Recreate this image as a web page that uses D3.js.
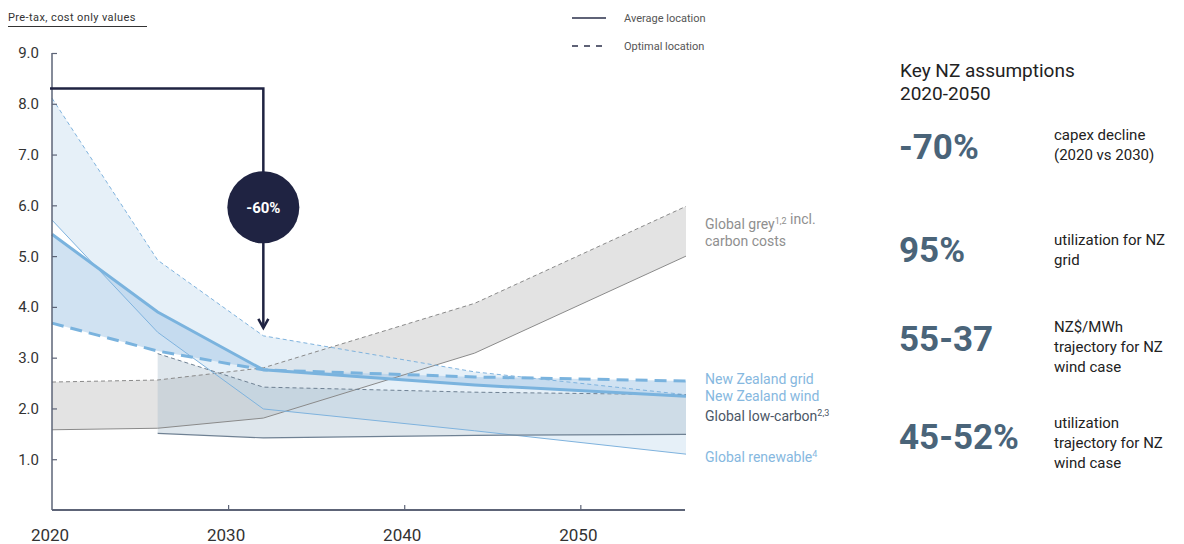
<!DOCTYPE html>
<html>
<head>
<meta charset="utf-8">
<script src="https://cdn.jsdelivr.net/npm/d3@7"></script>
<style>
  body { margin: 0; background: #fff; }
  svg text { font-family: Roboto, "Noto Sans", sans-serif; }
</style>
</head>
<body>
<div id="chart"></div>
<script>
// years where the curves have a kink
var years = [2020, 2026, 2032, 2044, 2056];
var lowCarbonYears = [2026, 2032, 2044, 2056];

// US$/kg values
var greyOptimal = [2.52, 2.56, 2.80, 4.07, 5.98];
var greyAverage = [1.58, 1.61, 1.81, 3.09, 5.00];
var lowCarbonOptimal = [3.08, 2.42, 2.32, 2.27];
var lowCarbonAverage = [1.51, 1.42, 1.47, 1.49];
var renewableOptimal = [8.11, 4.92, 3.43, 2.72, 2.27];
var renewableAverage = [5.71, 3.50, 1.99, 1.56, 1.10];
var nzWind = [5.43, 3.90, 2.76, 2.46, 2.24];
var nzGrid = [3.68, 3.13, 2.76, 2.62, 2.54];

var yTicks = [1, 2, 3, 4, 5, 6, 7, 8, 9];
var xTicks = [2020, 2030, 2040, 2050];

var seriesLabels = [
  { lines: ["Global grey|1,2| incl.", "carbon costs"], value: 5.46, color: "#8f8f8f" },
  { lines: ["New Zealand grid"], value: 2.58, color: "#86b8e0" },
  { lines: ["New Zealand wind"], value: 2.24, color: "#86b8e0" },
  { lines: ["Global low-carbon|2,3|"], value: 1.85, color: "#4b5666" },
  { lines: ["Global renewable|4|"], value: 1.04, color: "#86b8e0" }
];

var keyNumbers = ["-70%", "95%", "55-37", "45-52%"];
var keyTexts = [
  ["capex decline", "(2020 vs 2030)"],
  ["utilization for NZ", "grid"],
  ["NZ$/MWh", "trajectory for NZ", "wind case"],
  ["utilization", "trajectory for NZ", "wind case"]
];
var keyNumberY = [146, 249, 338, 436];
var keyTextTop = [135, 240, 327, 423];

var width = 1184, height = 544;
var svg = d3.select("#chart").append("svg")
  .attr("width", width).attr("height", height);

var x = d3.scaleLinear().domain([2020, 2056]).range([52, 686]);
var y = d3.scaleLinear().domain([0, 9]).range([510, 53]);

function band(xs, hi, lo) {
  return d3.area()
    .x(function (d, i) { return x(xs[i]); })
    .y0(function (d, i) { return y(lo[i]); })
    .y1(function (d, i) { return y(hi[i]); })(xs);
}
function line(xs, vals) {
  return d3.line()
    .x(function (d, i) { return x(xs[i]); })
    .y(function (d) { return y(d); })(vals);
}

// fills
svg.append("path").attr("d", band(years, greyOptimal, greyAverage)).attr("fill", "#e3e3e3");
svg.append("path").attr("d", band(years, renewableOptimal, renewableAverage))
  .attr("fill", "#d6e6f4").attr("opacity", 0.6);
svg.append("path").attr("d", band(lowCarbonYears, lowCarbonOptimal, lowCarbonAverage))
  .attr("fill", "#a0b6c8").attr("opacity", 0.35);
svg.append("path").attr("d", band(years, nzWind, nzGrid))
  .attr("fill", "#a9cbe8").attr("opacity", 0.55);

// lines
svg.append("path").attr("d", line(years, greyOptimal)).attr("fill", "none")
  .attr("stroke", "#8a8a8a").attr("stroke-width", 1).attr("stroke-dasharray", "4,3");
svg.append("path").attr("d", line(years, greyAverage)).attr("fill", "none")
  .attr("stroke", "#8a8a8a").attr("stroke-width", 1);
svg.append("path").attr("d", line(years, renewableOptimal)).attr("fill", "none")
  .attr("stroke", "#7fb3de").attr("stroke-width", 1).attr("stroke-dasharray", "4,3");
svg.append("path").attr("d", line(years, renewableAverage)).attr("fill", "none")
  .attr("stroke", "#7fb3de").attr("stroke-width", 1);
svg.append("path").attr("d", line(lowCarbonYears, lowCarbonOptimal)).attr("fill", "none")
  .attr("stroke", "#6f8193").attr("stroke-width", 1).attr("stroke-dasharray", "4,3");
svg.append("path").attr("d", line(lowCarbonYears, lowCarbonAverage)).attr("fill", "none")
  .attr("stroke", "#6f8193").attr("stroke-width", 1.2);
svg.append("path").attr("d", line(years, nzWind)).attr("fill", "none")
  .attr("stroke", "#7ab3de").attr("stroke-width", 3);
svg.append("path").attr("d", line(years, nzGrid)).attr("fill", "none")
  .attr("stroke", "#7ab3de").attr("stroke-width", 3).attr("stroke-dasharray", "12,7");

// axes
var yAxis = svg.append("g").attr("transform", "translate(" + x(2020) + ",0)")
  .call(d3.axisRight(y).tickValues(yTicks).tickSize(5).tickFormat(""));
yAxis.select(".domain").attr("d", "M0," + y(9) + "V" + y(0)).attr("stroke", "#5d6477").attr("stroke-width", 1.5);
yAxis.selectAll(".tick line").attr("stroke", "#5d6477").attr("stroke-width", 1.2);

svg.selectAll(".ylab").data(yTicks).enter().append("text")
  .attr("x", 39).attr("y", function (d) { return y(d); }).attr("dy", "0.36em")
  .attr("text-anchor", "end").attr("font-size", 15).attr("fill", "#333")
  .text(function (d) { return d.toFixed(1); });

var xAxis = svg.append("g").attr("transform", "translate(0," + y(0) + ")")
  .call(d3.axisTop(x).tickValues(xTicks.slice(1)).tickSize(5).tickFormat(""));
xAxis.select(".domain").attr("d", "M" + x(2020) + ",0H" + 685).attr("stroke", "#5d6477").attr("stroke-width", 2);
xAxis.selectAll(".tick line").attr("stroke", "#5d6477").attr("stroke-width", 1.2);

svg.selectAll(".xlab").data(xTicks).enter().append("text")
  .attr("x", function (d) { return x(d) - 2; }).attr("y", 535).attr("dy", "0.36em")
  .attr("text-anchor", "middle").attr("font-size", 17).attr("fill", "#333")
  .text(function (d) { return d; });

// -60% annotation
var navy = "#1f2342";
var tipY = y(renewableOptimal[2]) - 8;
svg.append("path")
  .attr("d", "M" + (x(2020) - 2) + "," + y(8.3) + "H" + x(2032) + "V" + tipY)
  .attr("fill", "none").attr("stroke", navy).attr("stroke-width", 2.5);
svg.append("path")
  .attr("d", "M" + (x(2032) - 5) + "," + (tipY - 9) + "L" + x(2032) + "," + tipY + "L" + (x(2032) + 5) + "," + (tipY - 9))
  .attr("fill", "none").attr("stroke", navy).attr("stroke-width", 2.5);
svg.append("circle").attr("cx", x(2032)).attr("cy", y(5.96)).attr("r", 36).attr("fill", navy);
svg.append("text").attr("x", x(2032)).attr("y", y(5.96)).attr("dy", "0.36em")
  .attr("text-anchor", "middle").attr("font-size", 15).attr("font-weight", 700)
  .attr("fill", "#fff").text("-60%");

// top-left note
svg.append("text").attr("x", 8).attr("y", 21).attr("font-size", 11)
  .attr("letter-spacing", 0.4).attr("fill", "#333").text("Pre-tax, cost only values");
svg.append("line").attr("x1", 8).attr("x2", 147).attr("y1", 26.5).attr("y2", 26.5)
  .attr("stroke", "#333").attr("stroke-width", 1);

// legend
var legend = [
  { label: "Average location", dash: null, y: 18 },
  { label: "Optimal location", dash: "6,6", y: 46 }
];
legend.forEach(function (l) {
  svg.append("line").attr("x1", 572).attr("x2", 606).attr("y1", l.y).attr("y2", l.y)
    .attr("stroke", "#2a2f4a").attr("stroke-width", 1.5).attr("stroke-dasharray", l.dash);
  svg.append("text").attr("x", 624).attr("y", l.y).attr("dy", "0.36em")
    .attr("font-size", 11).attr("fill", "#555").text(l.label);
});

// series labels at the right end of the chart
seriesLabels.forEach(function (s) {
  var y0 = y(s.value) - (s.lines.length - 1) * 8.5;
  s.lines.forEach(function (ln, i) {
    var t = svg.append("text").attr("x", 705).attr("y", y0 + i * 17).attr("dy", "0.36em")
      .attr("font-size", 14).attr("fill", s.color);
    ln.split("|").forEach(function (part, j) {
      if (j % 2 === 1) {
        t.append("tspan").attr("font-size", 9).attr("dy", -5).text(part);
        t.append("tspan").attr("dy", 5).text("");
      } else if (part) {
        t.append("tspan").text(part);
      }
    });
  });
});

// key assumptions panel
svg.append("text").attr("x", 900).attr("y", 77).attr("font-size", 19).attr("fill", "#222")
  .text("Key NZ assumptions");
svg.append("text").attr("x", 900).attr("y", 100).attr("font-size", 19).attr("fill", "#222")
  .text("2020-2050");

keyNumbers.forEach(function (n, i) {
  svg.append("text").attr("x", 899).attr("y", keyNumberY[i]).attr("dy", "0.36em")
    .attr("font-size", 35).attr("font-weight", 700).attr("fill", "#4a6479").text(n);
  keyTexts[i].forEach(function (ln, j) {
    svg.append("text").attr("x", 1054).attr("y", keyTextTop[i] + j * 20).attr("dy", "0.36em")
      .attr("font-size", 15).attr("fill", "#222").text(ln);
  });
});
</script>
</body>
</html>
